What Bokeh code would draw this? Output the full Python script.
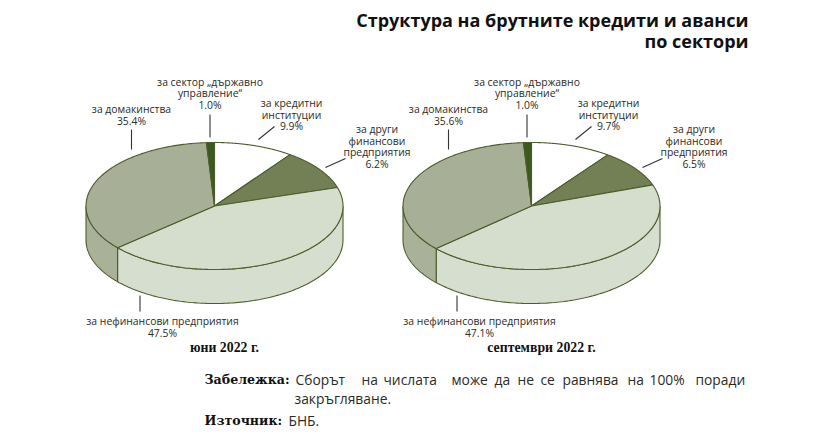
import numpy as np
from bokeh.plotting import figure
from bokeh.core.properties import value
from bokeh.embed import file_html
from bokeh.resources import INLINE

categories = ["за кредитни институции", "за други финансови предприятия",
              "за нефинансови предприятия", "за домакинства", "за сектор „държавно управление“"]
# Percentages as printed in the reference's labels
june_values = [9.9, 6.2, 47.5, 35.4, 1.0]
september_values = [9.7, 6.5, 47.1, 35.6, 1.0]
# Wedge shares as measured from the reference's drawing, which do not match its printed
# percentages (the olive wedge is drawn at about 10% but labelled 6.2% / 6.5%)
june_drawn_shares = [10.0, 10.3, 43.3, 35.4, 1.0]
september_drawn_shares = [10.1, 9.5, 43.7, 35.7, 1.0]
period_labels = ["юни 2022 г.", "септември 2022 г."]
title_lines = ["Структура на брутните кредити и аванси", "по сектори"]
note_words = ["Сборът", "на", "числата", "може", "да", "не", "се", "равнява", "на", "100%", "поради"]

TOP = ["#ffffff", "#737f55", "#d5ddcd", "#a8af97", "#3b5a1f"]
SIDE = ["#ffffff", "#737f55", "#d6decf", "#a9b199", "#3b5a1f"]
EDGE = "#4d5c2c"
A, B, D, CY = 128.5, 63.5, 34, 205.5
TXT = "#2b2b26"
SANS = "Open Sans"
SERIF = "DejaVu Serif"

p = figure(width=812, height=430, x_range=(0, 812), y_range=(430, 0),
           output_backend="svg", toolbar_location=None, min_border=0)
p.axis.visible = False
p.grid.visible = False
p.outline_line_color = None


def pie(cx, vals):
    v = np.array(vals, float)
    edges = np.concatenate([[0], np.cumsum(v) / v.sum()]) * 2 * np.pi
    for i in range(len(v)):
        a0, a1 = max(edges[i], np.pi / 2), min(edges[i + 1], 3 * np.pi / 2)
        if a1 <= a0:
            continue
        t = np.linspace(a0, a1, 120)
        x = cx + A * np.sin(t)
        y = CY - B * np.cos(t)
        p.patch(np.r_[x, x[::-1]], np.r_[y, (y + D)[::-1]],
                fill_color=SIDE[i], line_color=EDGE, line_width=1.1)
    for i in range(len(v)):
        t = np.linspace(edges[i], edges[i + 1], 160)
        x = np.r_[cx, cx + A * np.sin(t)]
        y = np.r_[CY, CY - B * np.cos(t)]
        p.patch(x, y, fill_color=TOP[i], line_color=EDGE, line_width=1.1)


def label(x, y, txt, size="10.4px", font=SANS, style="normal", align="center", color=TXT):
    p.text([x], [y], text=[txt], text_font=value(font), text_font_size=size,
           text_font_style=style, text_align=align, text_baseline="middle", text_color=color)


def annotate(dx, vals, period):
    f = lambda n: f"{n:.1f}%"
    for y, s in zip((81, 92.5, 104), ("за сектор „държавно", "управление“", f(vals[4]))):
        label(209.5 + dx, y, s)
    for y, s in zip((108, 120), (categories[3], f(vals[3]))):
        label(131 + dx, y, s)
    for y, s in zip((102, 114, 125.5), ("за кредитни", "институции", f(vals[0]))):
        label(291 + dx, y, s)
    for y, s in zip((128, 140, 151.5, 163), ("за други", "финансови", "предприятия", f(vals[1]))):
        label(376.5 + dx, y, s)
    for y, s in zip((320, 332), (categories[2], f(vals[2]))):
        label(162 + dx, y, s)
    label(224 + dx, 347, period, size="13.8px", font="Liberation Serif", style="bold", color="#111111")
    for xs, ys in (([209.5, 209.5], [114, 137]), ([131, 131], [129, 149]),
                   ([258, 274], [139, 126]), ([325, 345], [167, 158]),
                   ([139.5, 139.5], [295, 311])):
        p.line([x + dx for x in xs], ys, line_color="#333333", line_width=1.1)


pie(214, june_drawn_shares)
pie(531, september_drawn_shares)
annotate(0, june_values, period_labels[0])
annotate(317, september_values, period_labels[1])

label(748, 19, title_lines[0], size="18px", style="bold", align="right", color="#111111")
label(748, 40, title_lines[1], size="18px", style="bold", align="right", color="#111111")

label(204, 378.5, "Забележка:", size="12.6px", font=SERIF, style="bold", align="left", color="#111111")
for x, w in zip((295, 361, 383, 451, 494, 517, 540, 562, 627, 649, 695), note_words):
    label(x, 378.5, w, size="13.8px", align="left")
label(294, 397.5, "закръгляване.", size="13.8px", align="left")
label(204, 420, "Източник:", size="12.6px", font=SERIF, style="bold", align="left", color="#111111")
label(288, 420, "БНБ.", size="13.8px", align="left")

open("out.html", "w").write(file_html(p, INLINE))
